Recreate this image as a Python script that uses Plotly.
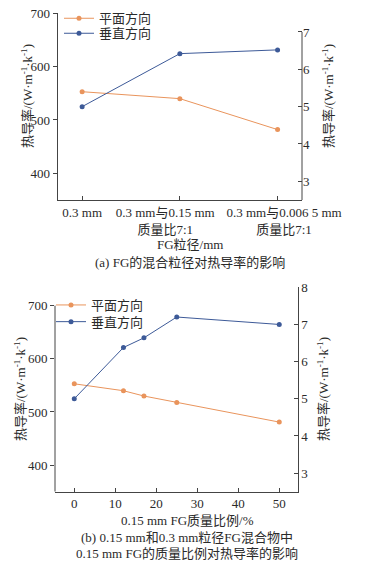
import plotly.graph_objects as go

NB = "\u00a0"
# ---- data ----
cats_a = ["0.3 mm",
          "0.3 mm与0.15 mm" + NB * 9 + "<br>质量比7:1" + NB * 9,
          NB * 4 + "0.3 mm与0.006 5 mm<br>" + NB * 4 + "质量比7:1"]
plane_a = [553, 540, 482]
vert_a = [5.0, 6.42, 6.52]

ratio_b = [0, 12, 17, 25, 50]
plane_b = [553, 540, 530, 518, 481]
vert_b = [5.0, 6.38, 6.64, 7.2, 7.0]

left_ticks = [400, 500, 600, 700]
right_ticks_a = [3, 4, 5, 6, 7]
right_ticks_b = [3, 4, 5, 6, 7, 8]
x_ticks_b = [0, 10, 20, 30, 40, 50]

ORANGE = "#E9945C"
BLUE = "#3D5A98"
FONT = "Liberation Serif, Noto Sans CJK SC, serif"
TXT = "#2a2a2a"
AX = "#444444"

W, H = 365, 566
def px(x):
    return x / W
def py(y):
    return 1 - y / H

fig = go.Figure()
xa = list(range(len(cats_a)))
mk = dict(size=5)
fig.add_trace(go.Scatter(x=xa, y=plane_a, name="平面方向", mode="lines+markers",
                         line=dict(color=ORANGE, width=1), marker=dict(color=ORANGE, **mk),
                         xaxis="x", yaxis="y", legend="legend"))
fig.add_trace(go.Scatter(x=xa, y=vert_a, name="垂直方向", mode="lines+markers",
                         line=dict(color=BLUE, width=1), marker=dict(color=BLUE, **mk),
                         xaxis="x", yaxis="y2", legend="legend2"))
fig.add_trace(go.Scatter(x=ratio_b, y=plane_b, name="平面方向", mode="lines+markers",
                         line=dict(color=ORANGE, width=1), marker=dict(color=ORANGE, **mk),
                         xaxis="x2", yaxis="y3", legend="legend3"))
fig.add_trace(go.Scatter(x=ratio_b, y=vert_b, name="垂直方向", mode="lines+markers",
                         line=dict(color=BLUE, width=1), marker=dict(color=BLUE, **mk),
                         xaxis="x2", yaxis="y4", legend="legend4"))

tickfont = dict(family=FONT, size=13, color=TXT)
common_y = dict(showgrid=False, zeroline=False, tickfont=tickfont, ticklen=4,
                tickcolor=AX, linecolor=AX, linewidth=1, automargin=False)
dom_a_x = [px(57.7), px(302)]
dom_a_y = [py(200), py(13.3)]
dom_b_x = [px(55), px(297.7)]
dom_b_y = [py(491.7), py(287.3)]

def leg(x, y):
    return dict(x=px(x), y=py(y), xanchor="left", yanchor="middle",
                bgcolor="rgba(0,0,0,0)", font=dict(family=FONT, size=13, color=TXT),
                itemwidth=30, tracegroupgap=0)

fig.update_layout(
    width=W, height=H, margin=dict(l=0, r=0, t=0, b=0, pad=0, autoexpand=False),
    paper_bgcolor="white", plot_bgcolor="white",
    font=dict(family=FONT, size=13, color=TXT),
    xaxis=dict(domain=dom_a_x, range=[-0.25, 2.25], anchor="y", tickmode="array",
               tickvals=xa, ticktext=cats_a, ticks="inside", ticklen=4, tickcolor=AX,
               tickangle=0, showline=True, linecolor=AX, linewidth=1, showgrid=False,
               zeroline=False, tickfont=tickfont, automargin=False),
    yaxis=dict(domain=dom_a_y, range=[350, 700], anchor="x", tickvals=left_ticks,
               ticks="outside", showline=True, **common_y),
    yaxis2=dict(domain=dom_a_y, range=[2.5, 7.5], anchor="x", overlaying="y", side="right",
                tickvals=right_ticks_a, ticks="inside", showline=False, **common_y),
    xaxis2=dict(domain=dom_b_x, range=[-4.7, 54.5], anchor="y3", tickvals=x_ticks_b,
                ticks="inside", ticklen=4, tickcolor=AX, tickangle=0, showline=True,
                linecolor=AX, linewidth=1, showgrid=False, zeroline=False, tickfont=tickfont,
                automargin=False),
    yaxis3=dict(domain=dom_b_y, range=[350, 734.6], anchor="x2", tickvals=left_ticks,
                ticks="outside", showline=False, **common_y),
    yaxis4=dict(domain=dom_b_y, range=[2.5, 8], anchor="x2", overlaying="y3", side="right",
                tickvals=right_ticks_b, ticks="inside", showline=True, **common_y),
    legend=leg(59, 18.3),
    legend2=leg(59, 33.3),
    legend3=leg(51, 305),
    legend4=leg(51, 321.7),
    showlegend=True,
)

# partial axis lines
fig.add_shape(type="line", xref="x domain", yref="y2", x0=1, x1=1, y0=2.5, y1=7,
              line=dict(color=AX, width=1))
fig.add_shape(type="line", xref="x2 domain", yref="y3", x0=0, x1=0, y0=350, y1=700,
              line=dict(color=AX, width=1))

ytitle = "热导率/(W·m<sup>-1</sup>·k<sup>-1</sup>)"
def ann(text, x, y, angle=0, size=13):
    fig.add_annotation(text=text, x=px(x), y=py(y), xref="paper", yref="paper",
                       showarrow=False, textangle=angle, xanchor="center", yanchor="middle",
                       font=dict(family=FONT, size=size, color=TXT))

ann(ytitle, 27, 96, -90)
ann(ytitle, 328, 96, -90)
ann("FG粒径/mm", 190, 245)
ann("(a) FG的混合粒径对热导率的影响", 190, 262)
ann(ytitle, 20, 389, -90)
ann(ytitle, 323, 389, -90)
ann("0.15 mm FG质量比例/%", 187, 520)
ann("(b) 0.15 mm和0.3 mm粒径FG混合物中", 187, 537)
ann("0.15 mm FG的质量比例对热导率的影响", 187, 553)

fig.write_html("out.html", config={"displayModeBar": False},
               post_script="document.body.style.margin='0';document.body.style.overflow='hidden';")
